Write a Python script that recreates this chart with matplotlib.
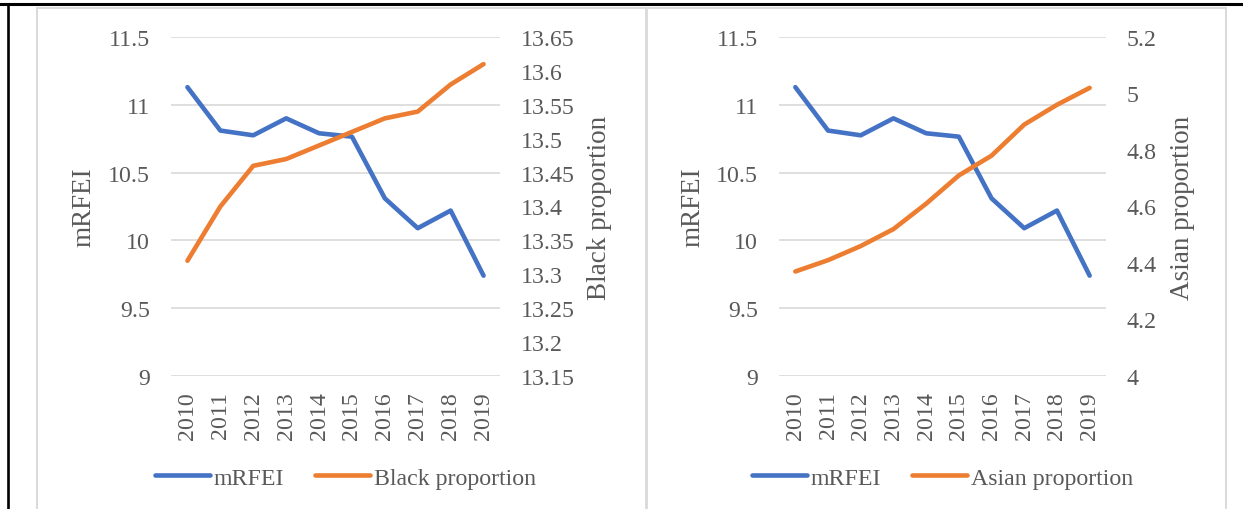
import matplotlib
matplotlib.use("Agg")
import matplotlib.pyplot as plt
from matplotlib.lines import Line2D

plt.rcParams["font.family"] = ["Liberation Serif", "DejaVu Serif"]

years = ["2010", "2011", "2012", "2013", "2014", "2015", "2016", "2017", "2018", "2019"]
mrfei = [11.13, 10.81, 10.775, 10.90, 10.79, 10.765, 10.31, 10.09, 10.22, 9.74]
black_prop = [13.32, 13.40, 13.46, 13.47, 13.49, 13.51, 13.53, 13.54, 13.58, 13.61]
asian_prop = [4.37, 4.41, 4.46, 4.52, 4.61, 4.71, 4.78, 4.89, 4.96, 5.02]

mrfei_ticks = [9, 9.5, 10, 10.5, 11, 11.5]
black_ticks = [13.15, 13.2, 13.25, 13.3, 13.35, 13.4, 13.45, 13.5, 13.55, 13.6, 13.65]
asian_ticks = [4, 4.2, 4.4, 4.6, 4.8, 5, 5.2]

BLUE = "#4472C4"
ORANGE = "#ED7D31"
GRID = "#D9D9D9"
TXT = "#595959"
FS = 17.2
LFS = 19.5

W, H = 1243, 510
fig = plt.figure(figsize=(W / 100, H / 100), dpi=100)
fig.patch.set_facecolor("white")


def fig_line(xs, ys, color, lw):
    fig.add_artist(Line2D([x / W for x in xs], [1 - y / H for y in ys],
                          transform=fig.transFigure, color=color, linewidth=lw))


# chart frames: outer gray box with a divider, plus the black rule on top/left
fig_line([37, 1226], [9, 9], GRID, 1.4)
fig_line([37, 37], [9, 515], GRID, 1.4)
fig_line([1226, 1226], [9, 515], GRID, 1.4)
fig_line([646, 646], [9, 515], GRID, 2.0)
fig_line([0, 1243], [5, 5], "black", 2.2)
fig_line([7.5, 7.5], [5, 515], "black", 1.9)


def panel(left_px, right_px, right_vals, right_ticks, right_lim, right_name, label_x, leg_x):
    bottom, top = 377, 38
    ax = fig.add_axes([left_px / W, (H - bottom) / H, (right_px - left_px) / W, (bottom - top) / H])
    ax2 = ax.twinx()
    x = list(range(len(years)))
    l1, = ax.plot(x, mrfei, color=BLUE, linewidth=3.3, solid_capstyle="round",
                  solid_joinstyle="round", label="mRFEI", zorder=3)
    l2, = ax2.plot(x, right_vals, color=ORANGE, linewidth=3.3, solid_capstyle="round",
                   solid_joinstyle="round", label=right_name, zorder=3)
    ax.set_xlim(-0.5, len(years) - 0.5)
    ax.set_ylim(9, 11.5)
    ax.set_yticks(mrfei_ticks)
    ax.set_yticklabels([f"{t:g}" for t in mrfei_ticks])
    ax2.set_ylim(*right_lim)
    ax2.set_yticks(right_ticks)
    ax2.set_yticklabels([f"{t:g}" for t in right_ticks])
    ax.set_xticks(x)
    ax.set_xticklabels(years, rotation=90)
    ax.grid(axis="y", color=GRID, linewidth=1.2)
    ax.set_axisbelow(True)
    for a in (ax, ax2):
        for s in a.spines.values():
            s.set_visible(False)
        a.tick_params(length=0, labelsize=FS, labelcolor=TXT)
    ax.tick_params(axis="y", pad=15)
    ax2.tick_params(axis="y", pad=15)
    ax.tick_params(axis="x", pad=11)
    ax.set_ylabel("mRFEI", fontsize=LFS, color=TXT)
    ax.yaxis.set_label_coords(-0.226, 0.5)
    ax2.set_ylabel(right_name, fontsize=LFS, color=TXT)
    ax2.yaxis.set_label_coords(label_x, 0.5)
    leg = ax.legend(handles=[l1, l2], loc="center", bbox_to_anchor=(leg_x, -0.3),
                    ncol=2, frameon=False, fontsize=FS, handlelength=2.3,
                    handletextpad=0.15, columnspacing=1.3)
    for t in leg.get_texts():
        t.set_color(TXT)
    return ax


panel(171, 500, black_prop, black_ticks, (13.15, 13.65), "Black proportion", 1.264, 0.53)
panel(779, 1106, asian_prop, asian_ticks, (4, 5.2), "Asian proportion", 1.196, 0.5)

fig.savefig("out.png", dpi=100)
